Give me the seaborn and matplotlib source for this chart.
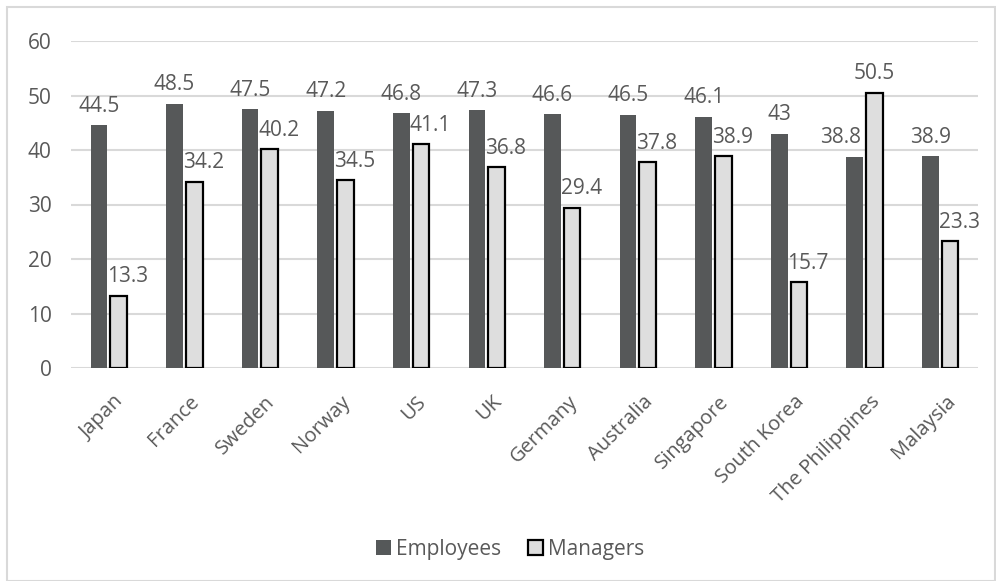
import matplotlib
matplotlib.use("Agg")
import matplotlib.pyplot as plt
import seaborn as sns
import pandas as pd
from matplotlib.patches import Rectangle
from matplotlib.transforms import ScaledTranslation

countries = ["Japan", "France", "Sweden", "Norway", "US", "UK", "Germany",
             "Australia", "Singapore", "South Korea", "The Philippines", "Malaysia"]
employees = [44.5, 48.5, 47.5, 47.2, 46.8, 47.3, 46.6, 46.5, 46.1, 43, 38.8, 38.9]
managers = [13.3, 34.2, 40.2, 34.5, 41.1, 36.8, 29.4, 37.8, 38.9, 15.7, 50.5, 23.3]
series = ["Employees", "Managers"]
yticks = [0, 10, 20, 30, 40, 50, 60]

df = pd.DataFrame({
    "country": countries * 2,
    "value": employees + managers,
    "series": [series[0]] * len(countries) + [series[1]] * len(countries),
})

sns.set_theme(style="white")
plt.rcParams["font.family"] = ["Open Sans", "DejaVu Sans"]

txt = "#595959"
fig = plt.figure(figsize=(9.96, 5.81), dpi=100)
ax = fig.add_axes([71 / 996, 1 - 368 / 581, (978 - 71) / 996, (368 - 41) / 581])

sns.barplot(data=df, x="country", y="value", hue="series", order=countries,
            hue_order=series, palette=["#555859", "#dedede"], width=0.52,
            gap=0.15, ax=ax, legend=False)

for i, cont in enumerate(ax.containers):
    vals = employees if i == 0 else managers
    other = managers if i == 0 else employees
    for bar in cont:
        if i == 1:
            bar.set_edgecolor("black")
            bar.set_linewidth(1.6)
        else:
            bar.set_edgecolor("none")
    labs = ax.bar_label(cont, labels=[("%g" % v) for v in vals],
                        padding=6, fontsize=15, color=txt)
    for j, t in enumerate(labs):
        x0, y0 = t.xyann
        if i == 1 and vals[j] < other[j]:
            t.xyann = (x0 + 6.5, y0)
        elif i == 0 and vals[j] < other[j]:
            t.xyann = (x0 - 10, y0)
        t.set_zorder(5)

ax.set_ylim(0, 60)
ax.set_xlim(-0.5, len(countries) - 0.5)
ax.set_yticks(yticks)
ax.yaxis.grid(True, color="#d9d9d9", linewidth=1.5)
ax.set_axisbelow(True)
for s in ax.spines.values():
    s.set_visible(False)
ax.set_xlabel("")
ax.set_ylabel("")
ax.tick_params(axis="y", labelsize=15, labelcolor=txt, length=0, pad=14)
ax.tick_params(axis="x", labelsize=14.5, labelcolor=txt, length=0, pad=17)
plt.setp(ax.get_xticklabels(), rotation=45, ha="right", rotation_mode="anchor")
for t in ax.get_xticklabels():
    t.set_transform(t.get_transform() + ScaledTranslation(5 / 100, 0, fig.dpi_scale_trans))

handles = [Rectangle((0, 0), 1, 1, facecolor="#555859", edgecolor="none"),
           Rectangle((0, 0), 1, 1, facecolor="#dedede", edgecolor="black", linewidth=1.6)]
leg = fig.legend(handles, series, loc="center", bbox_to_anchor=(510 / 996, 1 - 549 / 581),
                 ncol=2, frameon=False, fontsize=15, handlelength=0.7, handleheight=0.7,
                 handletextpad=0.25, columnspacing=1.3)
for t in leg.get_texts():
    t.set_color(txt)

fig.patches.append(Rectangle((7 / 996, 0), 1 - 8 / 996, 1 - 7 / 581, transform=fig.transFigure,
                             fill=False, edgecolor="#d9d9d9", linewidth=1.5))

fig.savefig("out.png", dpi=100, facecolor="white")
